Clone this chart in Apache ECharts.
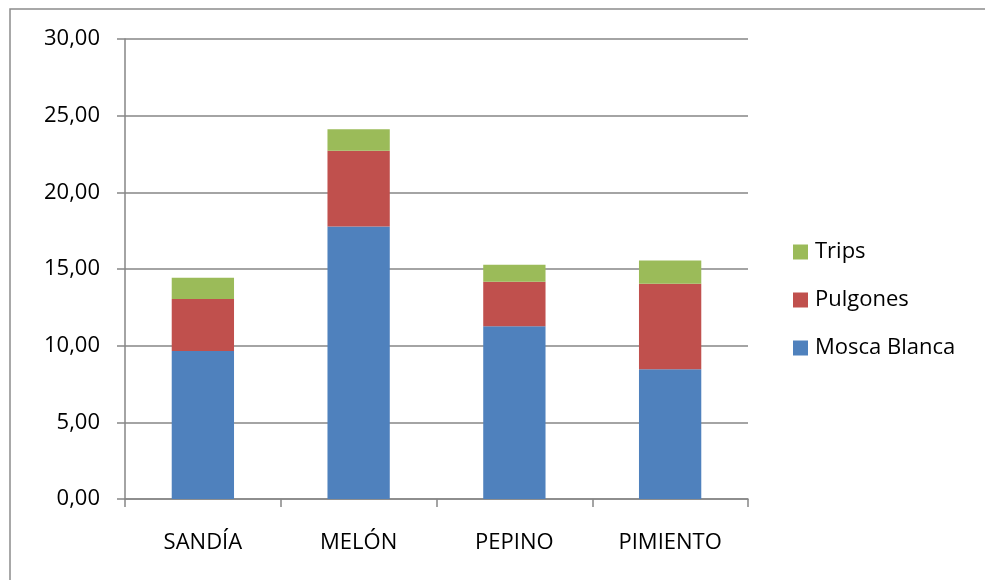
<!DOCTYPE html>
<html>
<head>
<meta charset="utf-8">
<script src="https://cdn.jsdelivr.net/npm/echarts@6/dist/echarts.min.js"></script>
<style>
html,body{margin:0;padding:0;background:#fff;}
#chart{width:985px;height:580px;}
</style>
</head>
<body>
<div id="chart"></div>
<script>
const categories = ['SANDÍA', 'MELÓN', 'PEPINO', 'PIMIENTO'];
const moscaBlanca = [9.65, 17.77, 11.26, 8.46];
const pulgones = [3.39, 4.95, 2.91, 5.58];
const trips = [1.39, 1.39, 1.10, 1.52];
const seriesNames = ['Mosca Blanca', 'Pulgones', 'Trips'];
const legendOrder = ['Trips', 'Pulgones', 'Mosca Blanca'];
const yMin = 0, yMax = 30, yStep = 5;

const colors = ['#4F81BD', '#C0504D', '#9BBB59'];
const font = '"Open Sans", "Noto Sans", sans-serif';
const chart = echarts.init(document.getElementById('chart'), null, {renderer: 'canvas'});
const values = [moscaBlanca, pulgones, trips];

chart.setOption({
  animation: false,
  backgroundColor: '#fff',
  color: colors,
  graphic: [{
    type: 'rect',
    shape: {x: 10, y: 9, width: 1000, height: 1000},
    style: {fill: 'none', stroke: '#8c8c8c', lineWidth: 1.5},
    silent: true
  }],
  grid: {left: 125, top: 39, right: 237, bottom: 81, containLabel: false},
  legend: {
    data: legendOrder,
    orient: 'vertical',
    left: 788,
    top: 236,
    itemWidth: 15,
    itemHeight: 15,
    itemGap: 26,
    icon: 'rect',
    textStyle: {fontFamily: font, fontSize: 22, color: '#000', lineHeight: 22, padding: [0, 0, 0, 2]}
  },
  xAxis: {
    type: 'category',
    data: categories,
    axisLine: {lineStyle: {color: '#868686', width: 1.5}},
    axisTick: {show: true, length: 8, lineStyle: {color: '#868686', width: 1.5}},
    axisLabel: {fontFamily: font, fontSize: 22, color: '#000', margin: 33}
  },
  yAxis: {
    type: 'value',
    min: yMin, max: yMax, interval: yStep,
    axisLine: {show: true, lineStyle: {color: '#868686', width: 1.5}},
    axisTick: {show: true, length: 8, lineStyle: {color: '#868686', width: 1.5}},
    splitLine: {lineStyle: {color: '#868686', width: 1.5}},
    axisLabel: {
      fontFamily: font, fontSize: 22, color: '#000', margin: 25,
      formatter: v => v.toFixed(2).replace('.', ',')
    }
  },
  series: seriesNames.map((name, i) => ({
    name: name,
    type: 'bar',
    stack: 'total',
    barWidth: '40%',
    data: values[i],
    itemStyle: {color: colors[i]}
  }))
});
</script>
</body>
</html>
